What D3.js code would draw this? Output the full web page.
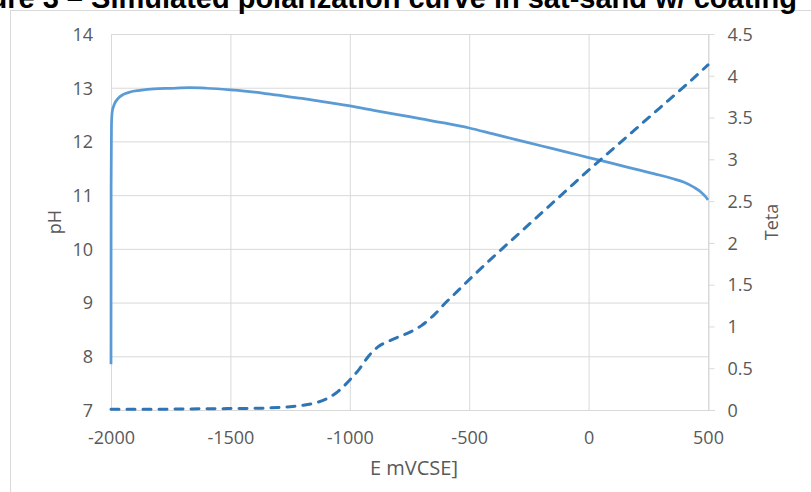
<!DOCTYPE html>
<html>
<head>
<meta charset="utf-8">
<script src="https://cdn.jsdelivr.net/npm/d3@7"></script>
<style>
  body { margin: 0; background: #fff; overflow: hidden; }
  .tick text { font-family: "Open Sans", sans-serif; font-size: 18px; fill: #595959; }
</style>
</head>
<body>
<div id="chart"></div>
<script>
// x values (E, mV) and pH for the solid curve
const phE = [-2000, -1999.5, -1998, -1995, -1985, -1970, -1950, -1920, -1880, -1820, -1750, -1670, -1600,
  -1500, -1400, -1300, -1200, -1100, -1000, -900, -800, -700, -600, -500, -400, -300, -200, -100,
  0, 100, 200, 300, 350, 400, 440, 470, 490, 500];
const phValues = [7.85, 11.2, 12.3, 12.55, 12.7, 12.8, 12.87, 12.92, 12.95, 12.98, 12.99, 13.0, 12.99,
  12.96, 12.92, 12.86, 12.8, 12.73, 12.66, 12.58, 12.5, 12.42, 12.34, 12.25, 12.14, 12.03, 11.92, 11.81,
  11.7, 11.59, 11.48, 11.37, 11.31, 11.24, 11.15, 11.06, 10.97, 10.91];

// x values and Teta for the dashed curve (right axis)
const tetaE = [-2000, -1800, -1600, -1400, -1300, -1250, -1200, -1150, -1100, -1050, -1000, -960, -920,
  -880, -840, -800, -750, -700, -650, -600, -550, -500, -400, -300, -200, -100, 0, 100, 200, 300, 400, 500];
const tetaValues = [0.01, 0.01, 0.015, 0.02, 0.03, 0.04, 0.055, 0.08, 0.13, 0.22, 0.36, 0.49, 0.65,
  0.76, 0.82, 0.87, 0.93, 1.01, 1.13, 1.28, 1.42, 1.56, 1.83, 2.09, 2.35, 2.61, 2.87, 3.12, 3.37, 3.62, 3.87, 4.13];

// tick labels
const xTicks = [-2000, -1500, -1000, -500, 0, 500];
const phTicks = [7, 8, 9, 10, 11, 12, 13, 14];
const tetaTicks = [0, 0.5, 1, 1.5, 2, 2.5, 3, 3.5, 4, 4.5];

const width = 811, height = 492;
const plot = { left: 111, right: 708, top: 34, bottom: 410 };

const svg = d3.select("#chart").append("svg")
    .attr("width", width)
    .attr("height", height);

// chart border (runs off the right / bottom)
svg.append("rect")
    .attr("x", 10.5).attr("y", 10.5)
    .attr("width", 900).attr("height", 600)
    .attr("fill", "none")
    .attr("stroke", "#d9d9d9");

// title, cut off at the top of the picture
svg.append("text")
    .attr("x", -54)
    .attr("y", 8)
    .attr("font-family", "Liberation Sans, Arial, sans-serif")
    .attr("font-size", "29px")
    .attr("font-weight", "bold")
    .attr("fill", "#000")
    .text("Figure 3 – Simulated polarization curve in sat-sand w/ coating");

const xScale = d3.scaleLinear().domain([-2000, 500]).range([plot.left, plot.right]);
const yScale = d3.scaleLinear().domain([7, 14]).range([plot.bottom, plot.top]);
const y2Scale = d3.scaleLinear().domain([0, 4.5]).range([plot.bottom, plot.top]);

const fmt = d => String(d);

// horizontal gridlines + left labels
const yAxis = svg.append("g")
    .attr("transform", "translate(" + plot.left + ",0)")
    .call(d3.axisLeft(yScale).tickValues(phTicks).tickFormat(fmt)
      .tickSize(-(plot.right - plot.left)).tickPadding(18));
yAxis.select(".domain").remove();
yAxis.selectAll("line").attr("stroke", "#d9d9d9");
yAxis.selectAll("text").attr("dy", "0.35em");

// vertical gridlines + bottom labels
const xAxis = svg.append("g")
    .attr("transform", "translate(0," + plot.bottom + ")")
    .call(d3.axisBottom(xScale).tickValues(xTicks).tickFormat(fmt)
      .tickSize(-(plot.bottom - plot.top)).tickPadding(21));
xAxis.select(".domain").remove();
xAxis.selectAll("line").attr("stroke", "#d9d9d9");

// bottom axis line
svg.append("line")
    .attr("x1", plot.left).attr("x2", plot.right + 7)
    .attr("y1", plot.bottom + 0.5).attr("y2", plot.bottom + 0.5)
    .attr("stroke", "#d9d9d9");

// right axis
const y2Axis = svg.append("g")
    .attr("transform", "translate(" + (plot.right + 0.5) + ",0)")
    .call(d3.axisRight(y2Scale).tickValues(tetaTicks).tickFormat(fmt)
      .tickSize(6).tickSizeOuter(0).tickPadding(13));
y2Axis.select(".domain").attr("stroke", "#d9d9d9");
y2Axis.selectAll("line").attr("stroke", "#d9d9d9");
y2Axis.selectAll("text").attr("dy", "0.35em");

// pH curve (solid)
const phLine = d3.line()
    .x((d, i) => xScale(phE[i]))
    .y(d => yScale(d))
    .curve(d3.curveMonotoneX);

svg.append("path")
    .datum(phValues)
    .attr("d", phLine)
    .attr("fill", "none")
    .attr("stroke", "#5b9bd5")
    .attr("stroke-width", 2.75);

// Teta curve (dashed)
const tetaLine = d3.line()
    .x((d, i) => xScale(tetaE[i]))
    .y(d => y2Scale(d))
    .curve(d3.curveMonotoneX);

svg.append("path")
    .datum(tetaValues)
    .attr("d", tetaLine)
    .attr("fill", "none")
    .attr("stroke", "#2e75b6")
    .attr("stroke-width", 3)
    .attr("stroke-linecap", "round")
    .attr("stroke-dasharray", "8,8");

// axis titles
const titleStyle = sel => sel
    .attr("font-family", "Open Sans, sans-serif")
    .attr("font-size", "18px")
    .attr("fill", "#595959")
    .attr("text-anchor", "middle");

svg.append("text")
    .call(titleStyle)
    .attr("transform", "translate(61," + ((plot.top + plot.bottom) / 2) + ") rotate(-90)")
    .text("pH");

svg.append("text")
    .call(titleStyle)
    .attr("transform", "translate(778," + ((plot.top + plot.bottom) / 2) + ") rotate(-90)")
    .text("Teta");

svg.append("text")
    .call(titleStyle)
    .attr("font-size", "20px")
    .attr("x", 414)
    .attr("y", 475)
    .text("E mVCSE]");
</script>
</body>
</html>
